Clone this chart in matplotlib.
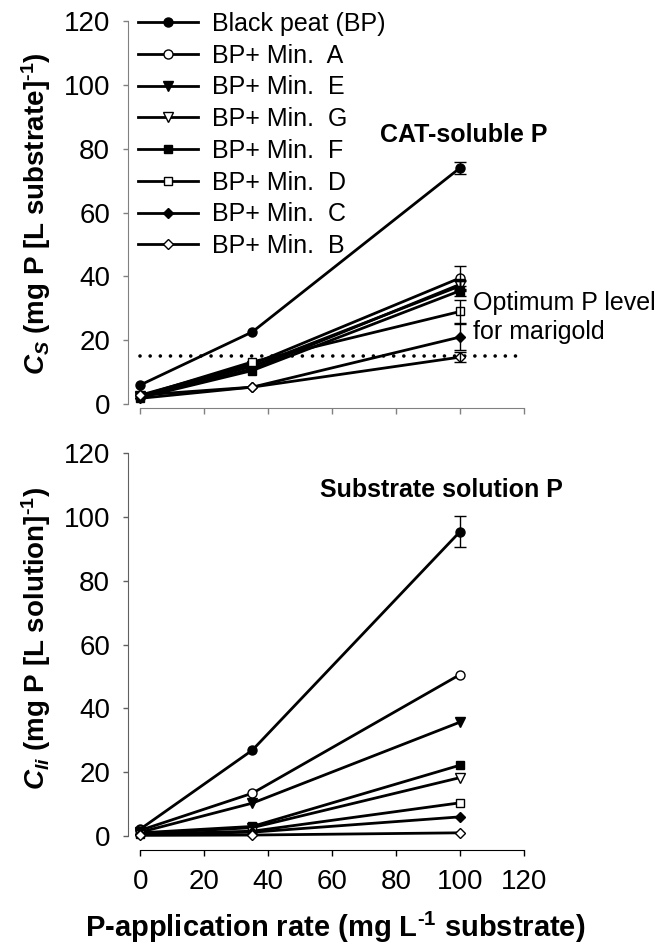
import matplotlib
matplotlib.use('Agg')
import matplotlib.pyplot as plt

plt.rcParams['font.family'] = ['Liberation Sans', 'DejaVu Sans']
plt.rcParams['mathtext.fontset'] = 'custom'
plt.rcParams['mathtext.rm'] = 'Liberation Sans:bold'
plt.rcParams['mathtext.it'] = 'Liberation Sans:italic:bold'
plt.rcParams['mathtext.bf'] = 'Liberation Sans:bold'

# P-application rate (mg L-1 substrate)
p_rate = [0, 35, 100]

series_labels = ['Black peat (BP)', 'BP+ Min.  A', 'BP+ Min.  E', 'BP+ Min.  G',
                 'BP+ Min.  F', 'BP+ Min.  D', 'BP+ Min.  C', 'BP+ Min.  B']

# CAT-soluble P (mg P per L substrate)
cat_bp = [6.0, 22.6, 74.0]
cat_a = [2.8, 12.5, 39.5]
cat_e = [2.2, 11.0, 37.5]
cat_g = [2.5, 11.8, 37.0]
cat_f = [2.0, 10.5, 35.5]
cat_d = [2.5, 13.2, 29.0]
cat_c = [1.8, 5.3, 21.0]
cat_b = [2.8, 5.3, 14.7]
cat_err = [1.9, 3.8, 1.5, 1.5, 1.5, 3.6, 4.0, 1.6]   # at 100 mg only

# substrate solution P (mg P per L solution)
sol_bp = [2.2, 26.9, 95.4]
sol_a = [1.8, 13.4, 50.6]
sol_e = [1.2, 10.3, 35.7]
sol_g = [0.8, 2.6, 18.3]
sol_f = [1.0, 3.0, 22.2]
sol_d = [0.6, 1.5, 10.4]
sol_c = [0.5, 1.2, 6.0]
sol_b = [0.2, 0.3, 1.0]
sol_err = [5.0, 0, 0, 0, 0, 0, 0, 0]

optimum_p = 15

cat_series = [cat_bp, cat_a, cat_e, cat_g, cat_f, cat_d, cat_c, cat_b]
sol_series = [sol_bp, sol_a, sol_e, sol_g, sol_f, sol_d, sol_c, sol_b]

# marker styles, filled / open pairs
mk = ['o', 'o', 'v', 'v', 's', 's', 'D', 'D']
mfc = ['black', 'white'] * 4
msz = [6.5, 6.5, 7, 7, 6, 6, 5.5, 5.5]

HY = '\u2010'  # short hyphen for the superscript, like the original


def draw_panel(ax, series, errs, spine_col, xspine_col, offset):
    for i, vals in enumerate(series):
        ax.plot(p_rate, vals, color='black', lw=2, marker=mk[i], ms=msz[i],
                mfc=mfc[i], mec='black', mew=1, label=series_labels[i],
                clip_on=False, zorder=3)
        if errs[i] > 0:
            ax.errorbar(p_rate[-1], vals[-1], yerr=errs[i], fmt='none',
                        ecolor='black', elinewidth=1, capsize=4, capthick=1,
                        clip_on=False, zorder=4)
    ax.set_xlim(-4.06, 120)
    ax.set_ylim(0, 120)
    ax.set_xticks(range(0, 121, 20))
    ax.set_yticks(range(0, 121, 20))
    ax.spines['top'].set_visible(False)
    ax.spines['right'].set_visible(False)
    ax.spines['left'].set_color(spine_col)
    ax.spines['bottom'].set_color(xspine_col)
    ax.spines['bottom'].set_position(('outward', offset))
    ax.spines['bottom'].set_bounds(0, 120)
    ax.tick_params(axis='y', direction='out', length=3.6, width=1,
                   color=spine_col, labelsize=20, pad=9)
    ax.tick_params(axis='x', direction='out', length=4, width=1,
                   color=xspine_col, labelsize=20, pad=9.5)


fig = plt.figure(figsize=(6.62, 9.44), dpi=100)
ax1 = fig.add_axes([0.1926, 0.572, 0.599, 0.4057])
ax2 = fig.add_axes([0.1926, 0.1144, 0.599, 0.4057])

# CAT-soluble P
draw_panel(ax1, cat_series, cat_err, '#808080', '#808080', 3)
ax1.plot([0, 120], [optimum_p, optimum_p], color='black', lw=2.6,
         linestyle=(0, (0.01, 2.8)), dash_capstyle='round', clip_on=False, zorder=2)
ax1.tick_params(axis='x', labelbottom=False)
ax1.set_ylabel(r'$C_S$ (mg P [L substrate]$^{' + HY + '1}$)', fontsize=20,
               fontweight='bold')
ax1.yaxis.set_label_coords(-0.231, 0.496)
ax1.yaxis.label.set_va('center')
ax1.text(75, 84.3, 'CAT-soluble P', fontsize=18, fontweight='bold',
         ha='left', va='center')
ax1.text(104, 27, 'Optimum P level\nfor marigold', fontsize=18,
         ha='left', va='center', linespacing=1.25, clip_on=False)
ax1.legend(loc='upper left', bbox_to_anchor=(0.026, 1.024), frameon=False,
           fontsize=18, borderpad=0, borderaxespad=0, handlelength=2.4,
           handletextpad=0.56, labelspacing=0.31, numpoints=1)

# Substrate solution P
draw_panel(ax2, sol_series, sol_err, '#606060', 'black', 10)
ax2.set_ylabel(r'$C_{li}$ (mg P [L solution]$^{' + HY + '1}$)', fontsize=20,
               fontweight='bold')
ax2.yaxis.set_label_coords(-0.231, 0.517)
ax2.yaxis.label.set_va('center')
ax2.set_xlabel(r'P-application rate (mg L$^{' + HY + '1}$ substrate)', fontsize=21,
               fontweight='bold')
ax2.xaxis.set_label_coords(0.523, -0.238)
ax2.xaxis.label.set_va('center')
ax2.text(56.25, 108.5, 'Substrate solution P', fontsize=18, fontweight='bold',
         ha='left', va='center')

fig.savefig('out.png', dpi=100)
